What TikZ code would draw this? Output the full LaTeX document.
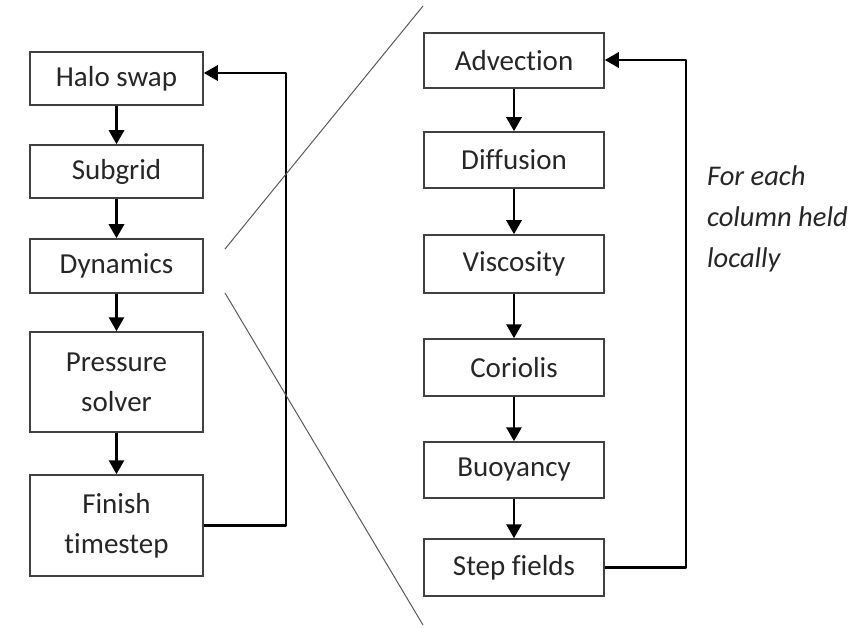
\documentclass[tikz,border=0pt]{standalone}
\usepackage{fontspec}
\setmainfont[Ligatures=NoCommon]{Carlito}
\usetikzlibrary{arrows.meta}
\begin{document}
\begin{tikzpicture}[x=1pt,y=-1pt,
  stepbox/.style={draw=black!75,line width=1.5pt,rectangle,inner sep=0pt,
    text=black!85,font=\fontsize{29}{40}\selectfont,align=center},
  lbox/.style={stepbox,minimum width=173pt},
  rbox/.style={stepbox,minimum width=180pt},
  flow/.style={line width=2.8pt,-{Triangle[length=14pt,width=15pt]}},
  loop/.style={line width=2.8pt,line join=round,-{Triangle[length=14pt,width=15pt]}},
  zoomline/.style={draw=black!65,line width=1pt}]
\useasboundingbox (0,0) rectangle (859,628);
% left column
\node[lbox,minimum height=53pt] (halo) at (116.5,78.5) {Halo swap};
\node[lbox,minimum height=53pt] (sub) at (116.5,171.5) {Subgrid};
\node[lbox,minimum height=54pt] (dyn) at (116.5,266) {Dynamics};
\node[lbox,minimum height=100pt] (pres) at (116.5,382) {Pressure\\solver};
\node[lbox,minimum height=101pt] (fin) at (116.5,525.5) {Finish\\timestep};
\draw[flow] (halo) -- (sub);
\draw[flow] (sub) -- (dyn);
\draw[flow] (dyn) -- (pres);
\draw[flow] (pres) -- (fin);
\coordinate (lc) at (286,73);
\draw[loop] (fin.east) -| (lc) -- (halo.east |- lc);
% right column
\node[rbox,minimum height=55pt] (adv) at (514,60.5) {Advection};
\node[rbox,minimum height=56pt] (dif) at (514,160) {Diffusion};
\node[rbox,minimum height=58pt] (vis) at (514,264) {Viscosity};
\node[rbox,minimum height=57pt] (cor) at (514,367.5) {Coriolis};
\node[rbox,minimum height=56pt] (buo) at (514,470) {Buoyancy};
\node[rbox,minimum height=57pt] (stp) at (514,567.5) {Step fields};
\draw[flow] (adv) -- (dif);
\draw[flow] (dif) -- (vis);
\draw[flow] (vis) -- (cor);
\draw[flow] (cor) -- (buo);
\draw[flow] (buo) -- (stp);
\coordinate (rc) at (686,60);
\draw[loop] (stp.east) -| (rc) -- (adv.east |- rc);
% zoom lines
\coordinate (z1a) at (225,249);
\coordinate (z1b) at (423,6);
\coordinate (z2a) at (225,293);
\coordinate (z2b) at (423,625);
\draw[zoomline] (z1a) -- (z1b);
\draw[zoomline] (z2a) -- (z2b);
% note
\node[anchor=base west,align=left,inner sep=0pt,text=black!85,
  font=\fontsize{28.5}{41}\selectfont\itshape] (note) at (707,268)
  {For each\\column held\\locally};
\end{tikzpicture}
\end{document}
